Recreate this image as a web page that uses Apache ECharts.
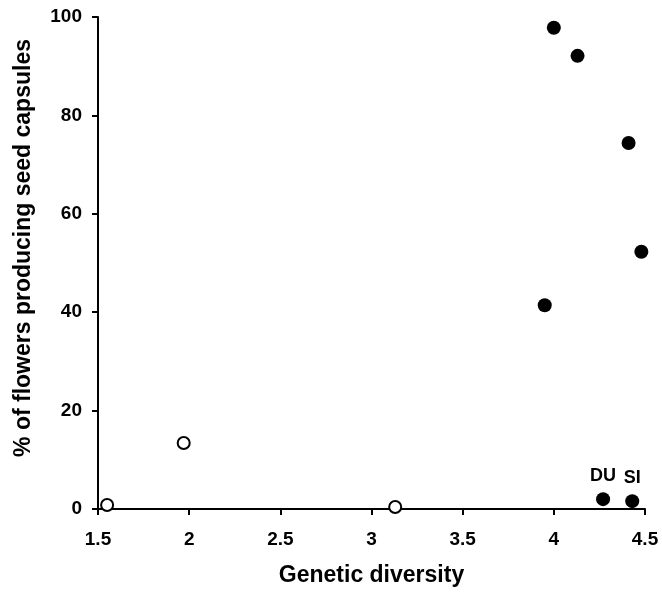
<!DOCTYPE html>
<html lang="en">
<head>
    <meta charset="UTF-8">
    <title>Seed capsules vs genetic diversity</title>
    <style>
        html, body { margin: 0; padding: 0; background: #fff; }
        #chart { width: 662px; height: 592px; }
    </style>
</head>
<body>
<div id="chart"></div>
<script src="https://cdn.jsdelivr.net/npm/echarts@6/dist/echarts.min.js"></script>
<script>
    // open circles
    var openX = [1.55, 1.97, 3.13];
    var openY = [0.8, 13.4, 0.4];
    // filled circles
    var filledX = [3.95, 4.0, 4.13, 4.41, 4.48, 4.27, 4.43];
    var filledY = [41.4, 97.8, 92.1, 74.4, 52.3, 2.0, 1.6];
    var filledNames = ['', '', '', '', '', 'DU', 'SI'];

    var font = 'Liberation Sans, Arial, sans-serif';

    var openData = openX.map(function (x, i) { return [x, openY[i]]; });
    var filledData = filledX.map(function (x, i) {
        var d = { value: [x, filledY[i]], name: filledNames[i] };
        if (filledNames[i]) {
            d.label = {
                show: true,
                position: 'top',
                distance: 7,
                formatter: '{b}',
                color: '#000',
                fontFamily: font,
                fontWeight: 'bold',
                fontSize: 18
            };
        }
        return d;
    });

    var axisCommon = {
        axisLine: { show: true, lineStyle: { color: '#000', width: 2 } },
        axisTick: { show: true, inside: false, length: 6, lineStyle: { color: '#000', width: 2 } },
        splitLine: { show: false },
        axisLabel: { color: '#000', fontFamily: font, fontWeight: 'bold', fontSize: 19 },
        nameTextStyle: { color: '#000', fontFamily: font, fontWeight: 'bold', fontSize: 23 }
    };

    var option = {
        animation: false,
        grid: { left: 98, right: 17, top: 17, bottom: 82, containLabel: false },
        xAxis: Object.assign({}, axisCommon, {
            type: 'value',
            min: 1.5, max: 4.5, interval: 0.5,
            name: 'Genetic diversity',
            nameLocation: 'middle',
            nameGap: 55,
            axisLabel: Object.assign({}, axisCommon.axisLabel, { margin: 21 })
        }),
        yAxis: Object.assign({}, axisCommon, {
            type: 'value',
            min: 0, max: 100, interval: 20,
            name: '% of flowers producing seed capsules',
            nameLocation: 'middle',
            nameGap: 63,
            nameTextStyle: Object.assign({}, axisCommon.nameTextStyle, { padding: [0, 0, 0, 30] }),
            axisLabel: Object.assign({}, axisCommon.axisLabel, { margin: 16 })
        }),
        series: [
            {
                type: 'scatter',
                data: openData,
                symbol: 'circle',
                symbolSize: 12,
                itemStyle: { color: '#fff', borderColor: '#000', borderWidth: 2, opacity: 1 }
            },
            {
                type: 'scatter',
                data: filledData,
                symbol: 'circle',
                symbolSize: 14,
                itemStyle: { color: '#000', opacity: 1 }
            }
        ]
    };

    var myChart = echarts.init(document.getElementById('chart'));
    myChart.setOption(option);
</script>
</body>
</html>
